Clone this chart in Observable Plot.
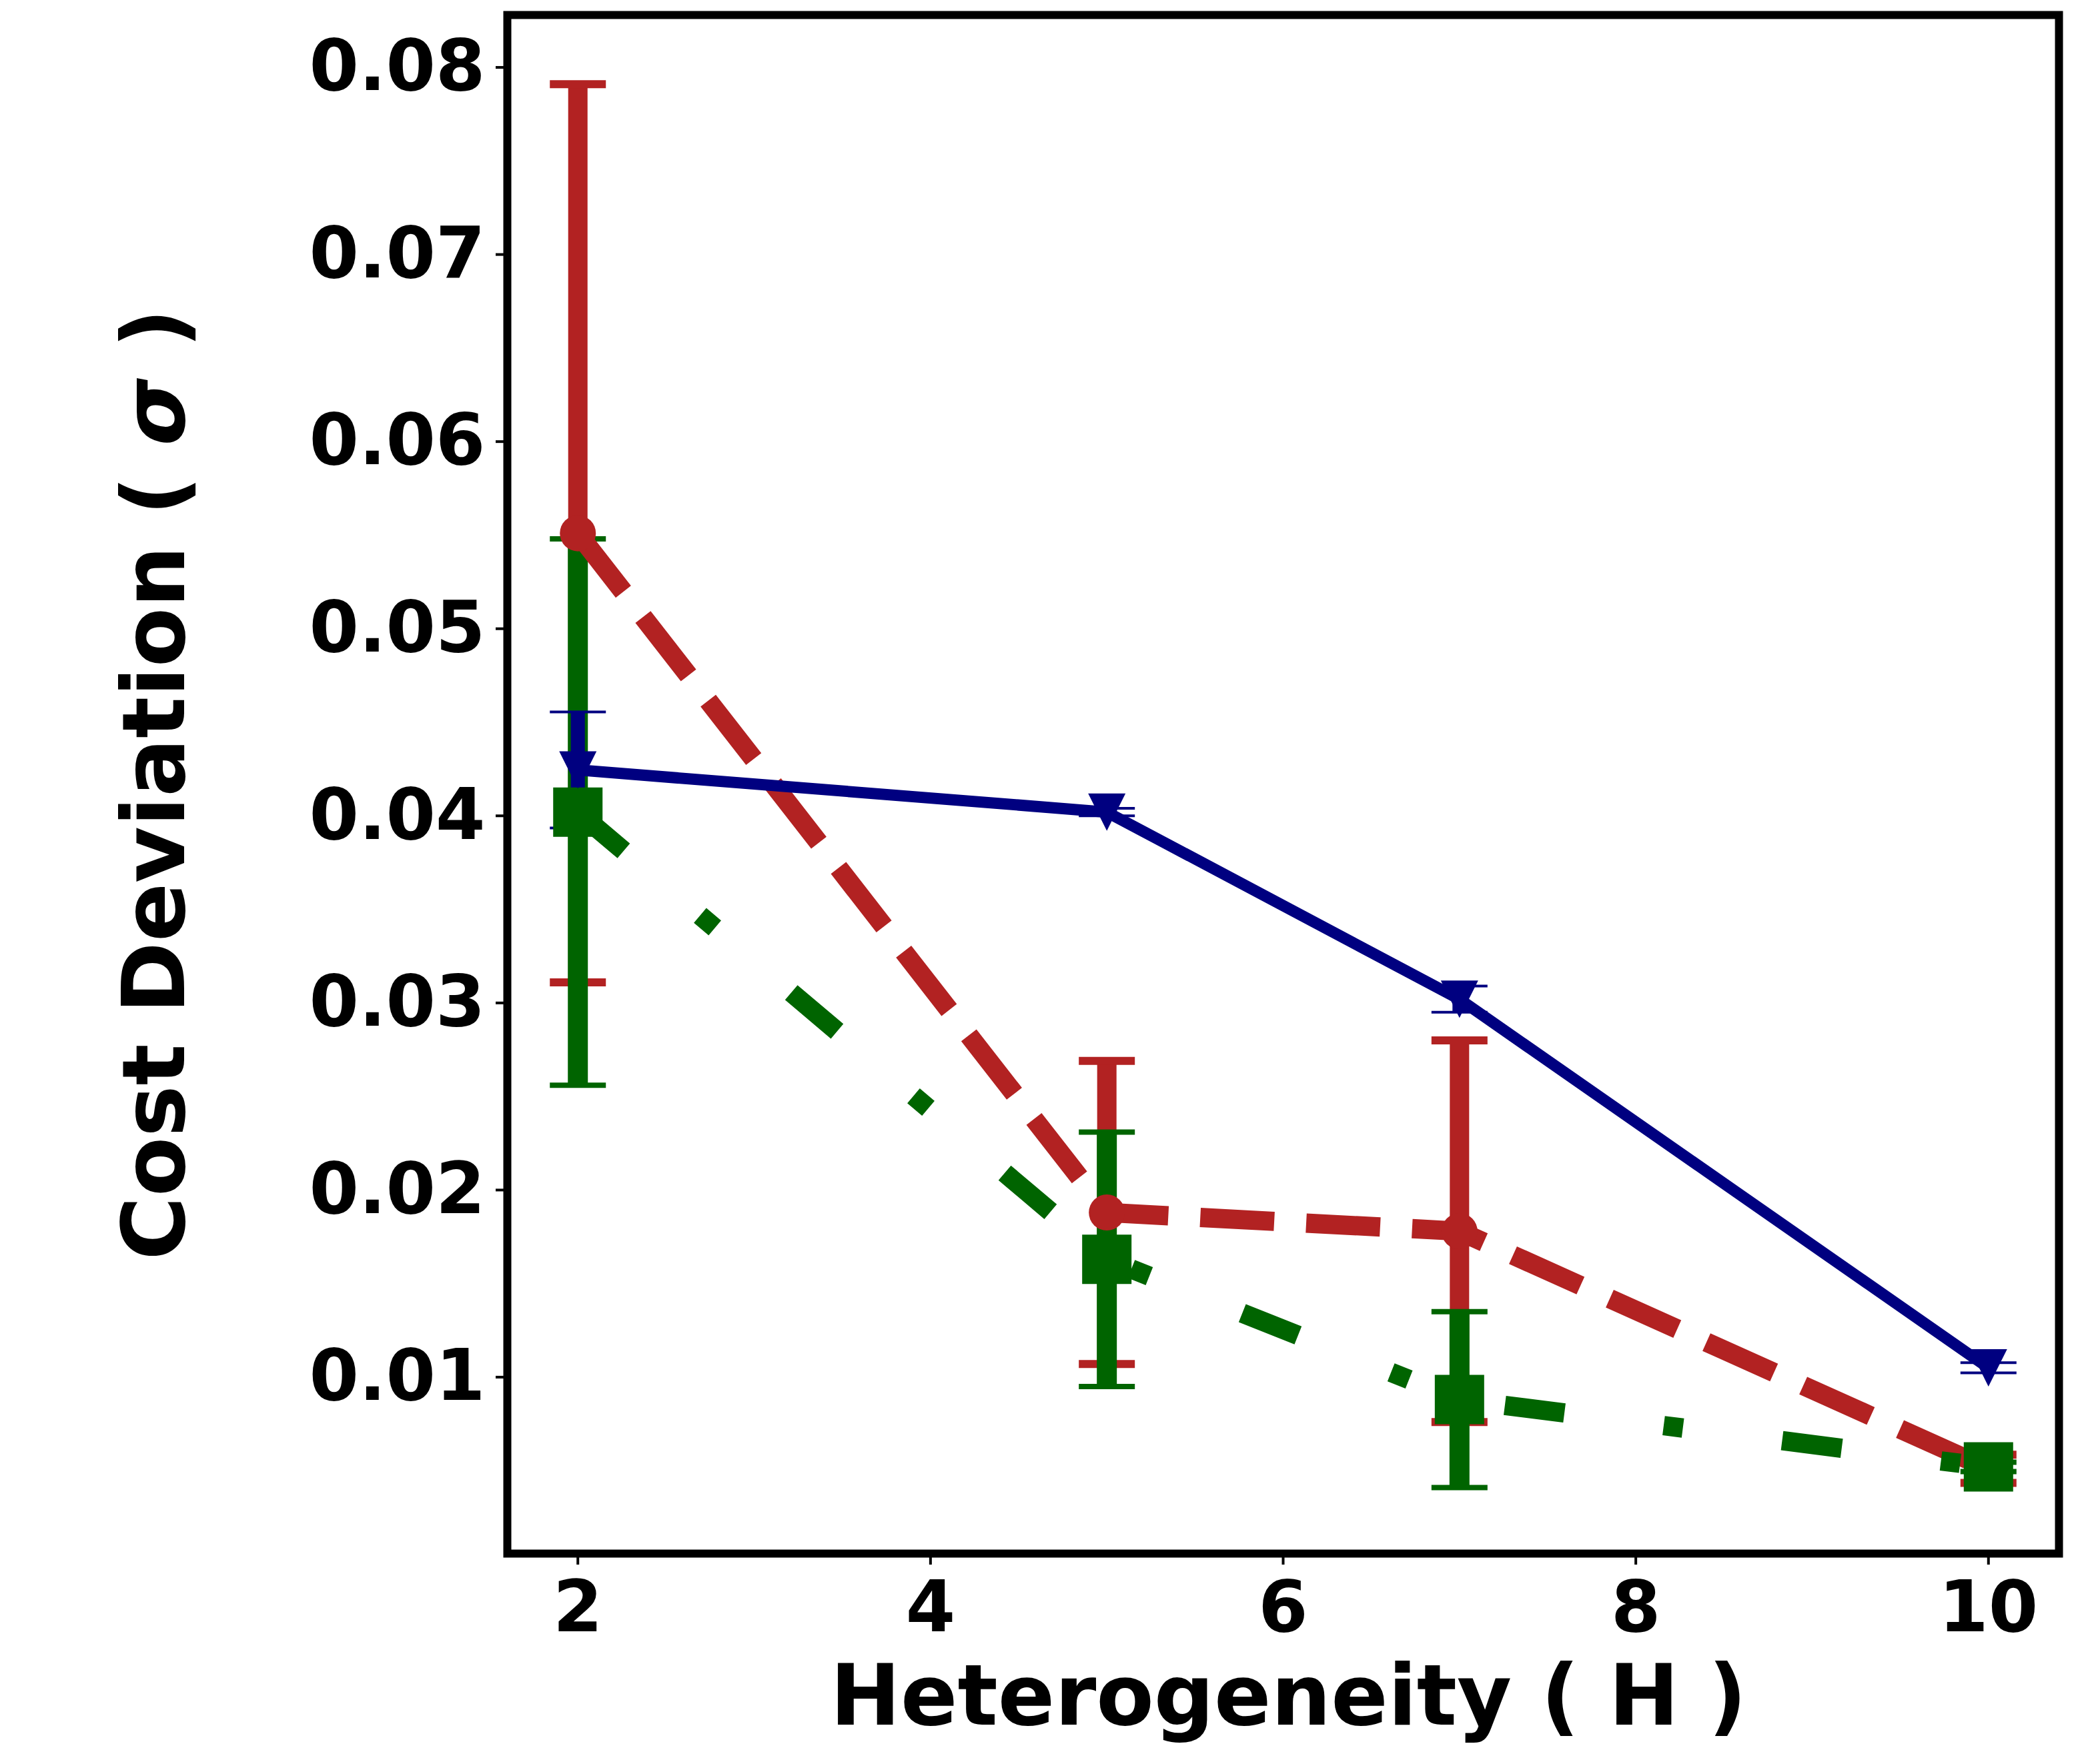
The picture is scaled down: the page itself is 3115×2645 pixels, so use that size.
<!DOCTYPE html>
<html>
<head>
<meta charset="utf-8">
<script src="https://cdn.jsdelivr.net/npm/d3@7"></script>
<script src="https://cdn.jsdelivr.net/npm/@observablehq/plot@0.6"></script>
<style>
  html, body { margin: 0; padding: 0; background: #fff; }
</style>
</head>
<body>
<div id="chart"></div>
<script>
// ---- data ----
const hetero = [2, 5, 7, 10];

const redMean = [0.0551, 0.0188, 0.0178, 0.0051];
const redErr  = [0.0240, 0.0081, 0.0102, 0.00075];

const greenMean = [0.0402, 0.0163, 0.0088, 0.0052];
const greenErr  = [0.0146, 0.0068, 0.0047, 0.00025];

const blueMean = [0.04245, 0.0402, 0.0302, 0.0105];
const blueErr  = [0.0031, 0.0002, 0.0007, 0.00027];

const xTicks = [2, 4, 6, 8, 10];
const yTicks = [0.01, 0.02, 0.03, 0.04, 0.05, 0.06, 0.07, 0.08];

const xLabel = "Heterogeneity ( H )";
const yLabel = "Cost Deviation ( σ )";

// ---- tables ----
const rows = (mean, err) => hetero.map((x, i) => ({x, mean: mean[i], lo: mean[i] - err[i], hi: mean[i] + err[i]}));
const red = rows(redMean, redErr);
const green = rows(greenMean, greenErr);
const blue = rows(blueMean, blueErr);

// ---- custom marker shapes (pixel sizes) ----
const capSym = {draw(ctx) { ctx.moveTo(-42, 0); ctx.lineTo(42, 0); }};
const squareSym = {draw(ctx) { ctx.moveTo(-37, -37); ctx.lineTo(37, -37); ctx.lineTo(37, 37); ctx.lineTo(-37, 37); ctx.closePath(); }};
const triDownSym = {draw(ctx) { ctx.moveTo(-28, -28); ctx.lineTo(28, -28); ctx.lineTo(0, 28); ctx.closePath(); }};

const RED = "#b22222", GREEN = "#006400", BLUE = "#000080";

function errMarks(data, color, width, capThick) {
  return [
    Plot.ruleX(data, {x: "x", y1: "lo", y2: "hi", stroke: color, strokeWidth: width}),
    Plot.dot(data, {x: "x", y: "hi", symbol: capSym, fill: "none", stroke: color, strokeWidth: capThick}),
    Plot.dot(data, {x: "x", y: "lo", symbol: capSym, fill: "none", stroke: color, strokeWidth: capThick})
  ];
}

const chart = Plot.plot({
  width: 3115,
  height: 2645,
  marginLeft: 760,
  marginRight: 29,
  marginTop: 22,
  marginBottom: 316,
  style: "font-family: 'DejaVu Sans'; font-weight: bold; font-size: 107px; background: white; color: black;",
  x: {type: "linear", domain: [1.6, 10.4]},
  y: {type: "linear", domain: [0.00057, 0.0828]},
  marks: [
    // error bars (drawn beneath all data lines)
    ...errMarks(red, RED, 29, 12),
    ...errMarks(green, GREEN, 30, 8),
    ...errMarks(blue, BLUE, 21, 4),
    // data lines + markers
    Plot.line(red, {x: "x", y: "mean", stroke: RED, strokeWidth: 29, strokeDasharray: "111,48", strokeLinecap: "butt", strokeLinejoin: "round"}),
    Plot.dot(red, {x: "x", y: "mean", r: 27, fill: RED, stroke: "none"}),
    Plot.line(green, {x: "x", y: "mean", stroke: GREEN, strokeWidth: 29, strokeDasharray: "90,150,29,150", strokeLinecap: "butt", strokeLinejoin: "round"}),
    Plot.dot(green, {x: "x", y: "mean", symbol: squareSym, fill: GREEN, stroke: "none"}),
    Plot.line(blue, {x: "x", y: "mean", stroke: BLUE, strokeWidth: 17, strokeLinecap: "square", strokeLinejoin: "round"}),
    Plot.dot(blue, {x: "x", y: "mean", symbol: triDownSym, fill: BLUE, stroke: "none"}),
    // axes
    Plot.axisX({ticks: xTicks, tickSize: 17, tickPadding: 24, strokeWidth: 4, fontSize: 107, fontWeight: "bold", label: null}),
    Plot.axisY({ticks: yTicks, tickSize: 17, tickPadding: 16, strokeWidth: 4, fontSize: 107, fontWeight: "bold", tickFormat: d3.format(".2f"), label: null}),
    Plot.frame({stroke: "black", strokeWidth: 12}),
    // axis titles
    Plot.text([xLabel], {frameAnchor: "bottom", dx: 8, dy: 256, lineAnchor: "bottom", textAnchor: "middle", fontSize: 126, fontWeight: "bold", fill: "black"}),
    Plot.text([yLabel], {frameAnchor: "left", dx: -485, rotate: -90, lineAnchor: "bottom", textAnchor: "middle", fontSize: 130, fontWeight: "bold", fill: "black"})
  ]
});

// italic sigma like matplotlib mathtext
d3.select(chart).selectAll("text").each(function() {
  if (this.textContent === yLabel) {
    const t = d3.select(this);
    t.text(null);
    t.append("tspan").text("Cost Deviation ( ");
    t.append("tspan").attr("font-style", "italic").text("σ");
    t.append("tspan").text(" )");
  }
});

document.getElementById("chart").appendChild(chart);
</script>
</body>
</html>
